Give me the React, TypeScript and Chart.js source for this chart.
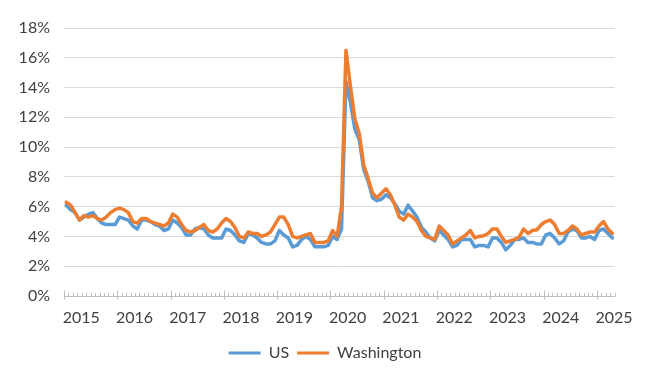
import React, { useEffect, useRef } from 'react';
import { Chart, registerables } from 'chart.js';

Chart.register(...registerables);

const years = [2015, 2016, 2017, 2018, 2019, 2020, 2021, 2022, 2023, 2024, 2025];
const monthNames = ['Jan', 'Feb', 'Mar', 'Apr', 'May', 'Jun', 'Jul', 'Aug', 'Sep', 'Oct', 'Nov', 'Dec'];
const lastYearMonths = 4;

const usRate = [
  6.1, 5.8, 5.6, 5.1, 5.3, 5.5, 5.6, 5.2, 4.9, 4.8, 4.8, 4.8,
  5.3, 5.2, 5.1, 4.7, 4.5, 5.1, 5.1, 5.0, 4.8, 4.7, 4.4, 4.5,
  5.1, 4.9, 4.6, 4.1, 4.1, 4.5, 4.6, 4.5, 4.1, 3.9, 3.9, 3.9,
  4.5, 4.4, 4.1, 3.7, 3.6, 4.2, 4.1, 3.9, 3.6, 3.5, 3.5, 3.7,
  4.4, 4.1, 3.9, 3.3, 3.4, 3.8, 4.0, 3.8, 3.3, 3.3, 3.3, 3.4,
  4.0, 3.8, 4.5, 14.4, 13.0, 11.2, 10.5, 8.5, 7.7, 6.6, 6.4, 6.5,
  6.8, 6.6, 6.2, 5.7, 5.5, 6.1, 5.7, 5.3, 4.6, 4.3, 3.9, 3.7,
  4.4, 4.1, 3.8, 3.3, 3.4, 3.8, 3.8, 3.8, 3.3, 3.4, 3.4, 3.3,
  3.9, 3.9, 3.6, 3.1, 3.4, 3.8, 3.8, 3.9, 3.6, 3.6, 3.5, 3.5,
  4.1, 4.2, 3.9, 3.5, 3.7, 4.3, 4.5, 4.4, 3.9, 3.9, 4.0, 3.8,
  4.4, 4.5, 4.2, 3.9,
];

const waRate = [
  6.3, 6.1, 5.6, 5.1, 5.4, 5.3, 5.4, 5.2, 5.1, 5.3, 5.6, 5.8,
  5.9, 5.8, 5.6, 5.0, 4.9, 5.2, 5.2, 5.0, 4.9, 4.8, 4.7, 4.9,
  5.5, 5.3, 4.8, 4.4, 4.3, 4.4, 4.6, 4.8, 4.4, 4.3, 4.5, 4.9,
  5.2, 5.0, 4.6, 4.0, 3.9, 4.3, 4.2, 4.2, 4.0, 4.1, 4.3, 4.8,
  5.3, 5.3, 4.8, 4.0, 3.9, 4.0, 4.1, 4.2, 3.6, 3.6, 3.6, 3.7,
  4.4, 4.0, 6.0, 16.5, 14.1, 11.9, 10.9, 8.8, 7.9, 6.9, 6.6, 6.9,
  7.2, 6.8, 6.1, 5.3, 5.1, 5.5, 5.3, 5.0, 4.4, 4.0, 3.9, 3.8,
  4.7, 4.4, 4.1, 3.5, 3.7, 3.9, 4.1, 4.4, 3.9, 4.0, 4.05, 4.2,
  4.5, 4.5, 4.0, 3.6, 3.7, 3.8, 3.95, 4.5, 4.2, 4.4, 4.45, 4.8,
  5.0, 5.1, 4.8, 4.2, 4.2, 4.4, 4.7, 4.5, 4.1, 4.2, 4.3, 4.3,
  4.7, 5.0, 4.5, 4.2,
];

const yTicks = [0, 2, 4, 6, 8, 10, 12, 14, 16, 18];

const labels: string[] = [];
years.forEach((y, yi) => {
  const n = yi === years.length - 1 ? lastYearMonths : 12;
  for (let m = 0; m < n; m++) labels.push(`${monthNames[m]} ${y}`);
});

const BLUE = '#5B9BD5';
const ORANGE = '#ED7D31';
const TEXT = '#404040';
const AXIS = '#BFBFBF';
const GRID = '#D9D9D9';
const FONT = 'Lato, "Open Sans", sans-serif';

const tickMarksPlugin = {
  id: 'tickMarks',
  afterDraw(chart: any) {
    const xs = chart.scales.x;
    const n = chart.data.labels.length;
    const step = (xs.right - xs.left) / n;
    const base = Math.round(xs.top) + 0.5;
    const ctx = chart.ctx;
    ctx.save();
    ctx.strokeStyle = AXIS;
    ctx.lineWidth = 1;
    for (let k = 0; k <= n; k++) {
      const px = Math.round(xs.left + k * step) + 0.5;
      const major = k % 12 === 0;
      ctx.beginPath();
      if (major) {
        ctx.moveTo(px, base - 6);
        ctx.lineTo(px, base + 3);
      } else {
        ctx.moveTo(px, base - 3.5);
        ctx.lineTo(px, base);
      }
      ctx.stroke();
    }
    ctx.restore();
  },
};

export default function App() {
  const ref = useRef<HTMLCanvasElement>(null);

  useEffect(() => {
    if (!ref.current) return;
    const chart = new Chart(ref.current, {
      type: 'line',
      data: {
        labels,
        datasets: [
          {
            label: 'US',
            data: usRate,
            borderColor: BLUE,
            backgroundColor: BLUE,
            borderWidth: 3.5,
            pointRadius: 0,
            tension: 0,
            borderJoinStyle: 'round',
            borderCapStyle: 'round',
            order: 2,
          },
          {
            label: 'Washington',
            data: waRate,
            borderColor: ORANGE,
            backgroundColor: ORANGE,
            borderWidth: 3.5,
            pointRadius: 0,
            tension: 0,
            borderJoinStyle: 'round',
            borderCapStyle: 'round',
            order: 1,
          },
        ],
      },
      options: {
        animation: false,
        responsive: false,
        layout: { padding: { top: 28, left: 0, right: 0, bottom: 6 } },
        plugins: {
          tooltip: { enabled: false },
          legend: {
            position: 'bottom',
            align: 'center',
            labels: {
              font: { family: FONT, size: 16 },
              color: TEXT,
              boxWidth: 32,
              boxHeight: 3,
              padding: 8,
              sort: (a: any, b: any) => a.datasetIndex - b.datasetIndex,
              generateLabels: (c: any) =>
                Chart.defaults.plugins.legend.labels
                  .generateLabels(c)
                  .map((l: any) => ({ ...l, lineWidth: 0 })),
            },
          },
        },
        scales: {
          x: {
            type: 'category',
            offset: true,
            grid: { display: false, drawTicks: false, offset: true },
            border: { display: true, color: AXIS, width: 1 },
            ticks: {
              autoSkip: false,
              maxRotation: 0,
              minRotation: 0,
              padding: 12,
              labelOffset: 15,
              color: TEXT,
              font: { family: FONT, size: 16 },
              callback: (_v: any, i: number) => (i % 12 === 0 ? String(years[i / 12]) : ''),
            },
            afterFit: (s: any) => {
              s.height = 41;
            },
          },
          y: {
            min: 0,
            max: 18,
            afterBuildTicks: (s: any) => {
              s.ticks = yTicks.map((v) => ({ value: v }));
            },
            grid: { color: GRID, lineWidth: 1, drawTicks: false },
            border: { display: false },
            ticks: {
              padding: 14,
              color: TEXT,
              font: { family: FONT, size: 16 },
              callback: (v: any) => `${v}%`,
            },
            afterFit: (s: any) => {
              s.width = 64;
            },
          },
          pad: {
            type: 'linear',
            position: 'right',
            display: true,
            grid: { display: false, drawTicks: false },
            border: { display: false },
            ticks: { display: false },
            afterFit: (s: any) => {
              s.width = 35.4;
            },
          },
        },
      },
      plugins: [tickMarksPlugin],
    });
    return () => chart.destroy();
  }, []);

  return (
    <div style={{ position: 'fixed', left: 0, top: 0, width: 650, height: 377, background: '#fff' }}>
      <canvas ref={ref} width={650} height={377} style={{ display: 'block' }} />
    </div>
  );
}
